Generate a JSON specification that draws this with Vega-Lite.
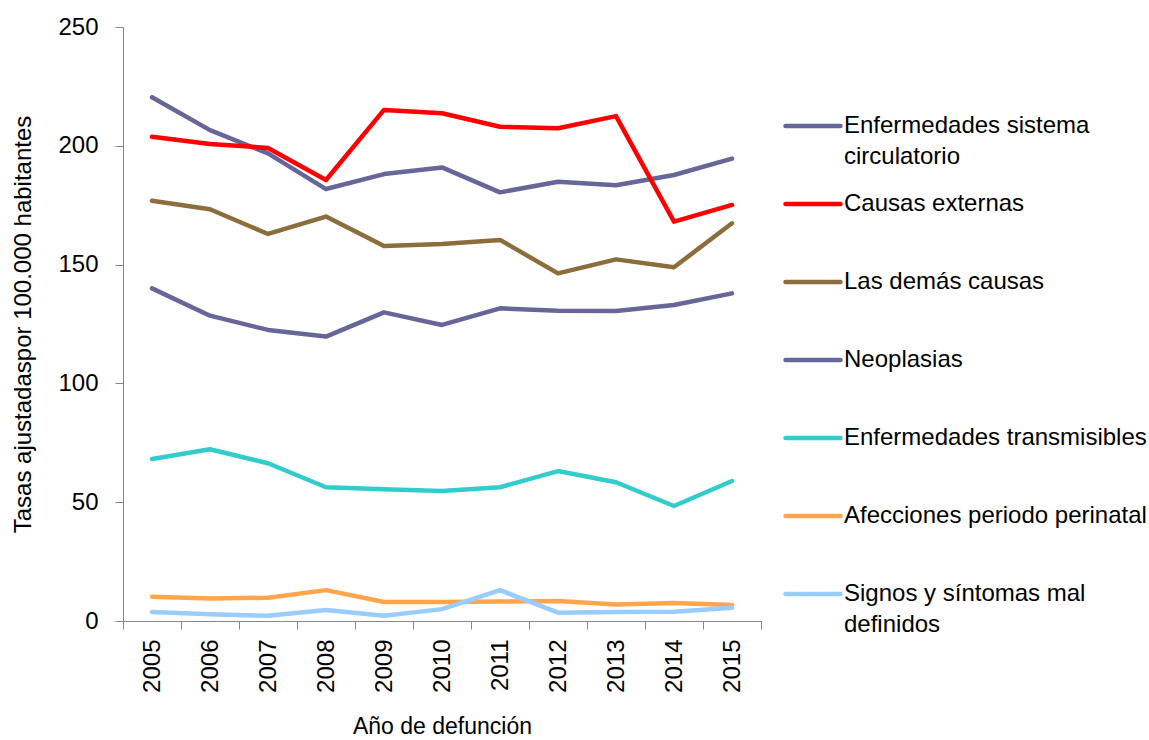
{
  "$schema": "https://vega.github.io/schema/vega-lite/v6.json",
  "width": 638,
  "height": 594,
  "autosize": {"type": "none"},
  "padding": {"left": 123, "top": 27, "right": 388, "bottom": 119},
  "config": {
    "view": {"stroke": null},
    "font": "Liberation Sans, Arial, sans-serif",
    "axis": {"labelFont": "Liberation Sans, Arial, sans-serif", "titleFont": "Liberation Sans, Arial, sans-serif"},
    "legend": {"labelFont": "Liberation Sans, Arial, sans-serif"}
  },
  "data": {
    "values": [
      {"causa": "Enfermedades sistema circulatorio", "anio": "2005", "tasa": 220.4},
      {"causa": "Enfermedades sistema circulatorio", "anio": "2006", "tasa": 206.6},
      {"causa": "Enfermedades sistema circulatorio", "anio": "2007", "tasa": 196.8},
      {"causa": "Enfermedades sistema circulatorio", "anio": "2008", "tasa": 181.8},
      {"causa": "Enfermedades sistema circulatorio", "anio": "2009", "tasa": 188.1},
      {"causa": "Enfermedades sistema circulatorio", "anio": "2010", "tasa": 190.9},
      {"causa": "Enfermedades sistema circulatorio", "anio": "2011", "tasa": 180.4},
      {"causa": "Enfermedades sistema circulatorio", "anio": "2012", "tasa": 184.9},
      {"causa": "Enfermedades sistema circulatorio", "anio": "2013", "tasa": 183.4},
      {"causa": "Enfermedades sistema circulatorio", "anio": "2014", "tasa": 187.7},
      {"causa": "Enfermedades sistema circulatorio", "anio": "2015", "tasa": 194.6},
      {"causa": "Causas externas", "anio": "2005", "tasa": 203.8},
      {"causa": "Causas externas", "anio": "2006", "tasa": 200.8},
      {"causa": "Causas externas", "anio": "2007", "tasa": 199.1},
      {"causa": "Causas externas", "anio": "2008", "tasa": 185.6},
      {"causa": "Causas externas", "anio": "2009", "tasa": 215.1},
      {"causa": "Causas externas", "anio": "2010", "tasa": 213.7},
      {"causa": "Causas externas", "anio": "2011", "tasa": 208.0},
      {"causa": "Causas externas", "anio": "2012", "tasa": 207.4},
      {"causa": "Causas externas", "anio": "2013", "tasa": 212.5},
      {"causa": "Causas externas", "anio": "2014", "tasa": 168.1},
      {"causa": "Causas externas", "anio": "2015", "tasa": 175.1},
      {"causa": "Las demás causas", "anio": "2005", "tasa": 176.9},
      {"causa": "Las demás causas", "anio": "2006", "tasa": 173.3},
      {"causa": "Las demás causas", "anio": "2007", "tasa": 162.9},
      {"causa": "Las demás causas", "anio": "2008", "tasa": 170.2},
      {"causa": "Las demás causas", "anio": "2009", "tasa": 157.8},
      {"causa": "Las demás causas", "anio": "2010", "tasa": 158.7},
      {"causa": "Las demás causas", "anio": "2011", "tasa": 160.4},
      {"causa": "Las demás causas", "anio": "2012", "tasa": 146.3},
      {"causa": "Las demás causas", "anio": "2013", "tasa": 152.2},
      {"causa": "Las demás causas", "anio": "2014", "tasa": 148.9},
      {"causa": "Las demás causas", "anio": "2015", "tasa": 167.4},
      {"causa": "Neoplasias", "anio": "2005", "tasa": 140.0},
      {"causa": "Neoplasias", "anio": "2006", "tasa": 128.5},
      {"causa": "Neoplasias", "anio": "2007", "tasa": 122.5},
      {"causa": "Neoplasias", "anio": "2008", "tasa": 119.7},
      {"causa": "Neoplasias", "anio": "2009", "tasa": 129.9},
      {"causa": "Neoplasias", "anio": "2010", "tasa": 124.6},
      {"causa": "Neoplasias", "anio": "2011", "tasa": 131.6},
      {"causa": "Neoplasias", "anio": "2012", "tasa": 130.6},
      {"causa": "Neoplasias", "anio": "2013", "tasa": 130.5},
      {"causa": "Neoplasias", "anio": "2014", "tasa": 133.0},
      {"causa": "Neoplasias", "anio": "2015", "tasa": 137.9},
      {"causa": "Enfermedades transmisibles", "anio": "2005", "tasa": 68.2},
      {"causa": "Enfermedades transmisibles", "anio": "2006", "tasa": 72.3},
      {"causa": "Enfermedades transmisibles", "anio": "2007", "tasa": 66.4},
      {"causa": "Enfermedades transmisibles", "anio": "2008", "tasa": 56.3},
      {"causa": "Enfermedades transmisibles", "anio": "2009", "tasa": 55.4},
      {"causa": "Enfermedades transmisibles", "anio": "2010", "tasa": 54.7},
      {"causa": "Enfermedades transmisibles", "anio": "2011", "tasa": 56.3},
      {"causa": "Enfermedades transmisibles", "anio": "2012", "tasa": 63.1},
      {"causa": "Enfermedades transmisibles", "anio": "2013", "tasa": 58.4},
      {"causa": "Enfermedades transmisibles", "anio": "2014", "tasa": 48.4},
      {"causa": "Enfermedades transmisibles", "anio": "2015", "tasa": 58.9},
      {"causa": "Afecciones periodo perinatal", "anio": "2005", "tasa": 10.2},
      {"causa": "Afecciones periodo perinatal", "anio": "2006", "tasa": 9.5},
      {"causa": "Afecciones periodo perinatal", "anio": "2007", "tasa": 9.8},
      {"causa": "Afecciones periodo perinatal", "anio": "2008", "tasa": 13.0},
      {"causa": "Afecciones periodo perinatal", "anio": "2009", "tasa": 8.0},
      {"causa": "Afecciones periodo perinatal", "anio": "2010", "tasa": 8.0},
      {"causa": "Afecciones periodo perinatal", "anio": "2011", "tasa": 8.2},
      {"causa": "Afecciones periodo perinatal", "anio": "2012", "tasa": 8.4},
      {"causa": "Afecciones periodo perinatal", "anio": "2013", "tasa": 6.9},
      {"causa": "Afecciones periodo perinatal", "anio": "2014", "tasa": 7.6},
      {"causa": "Afecciones periodo perinatal", "anio": "2015", "tasa": 6.7},
      {"causa": "Signos y síntomas mal definidos", "anio": "2005", "tasa": 3.8},
      {"causa": "Signos y síntomas mal definidos", "anio": "2006", "tasa": 2.8},
      {"causa": "Signos y síntomas mal definidos", "anio": "2007", "tasa": 2.2},
      {"causa": "Signos y síntomas mal definidos", "anio": "2008", "tasa": 4.6},
      {"causa": "Signos y síntomas mal definidos", "anio": "2009", "tasa": 2.2},
      {"causa": "Signos y síntomas mal definidos", "anio": "2010", "tasa": 5.0},
      {"causa": "Signos y síntomas mal definidos", "anio": "2011", "tasa": 13.0},
      {"causa": "Signos y síntomas mal definidos", "anio": "2012", "tasa": 3.5},
      {"causa": "Signos y síntomas mal definidos", "anio": "2013", "tasa": 3.8},
      {"causa": "Signos y síntomas mal definidos", "anio": "2014", "tasa": 3.9},
      {"causa": "Signos y síntomas mal definidos", "anio": "2015", "tasa": 5.6}
    ]
  },
  "mark": {"type": "line", "strokeWidth": 4.5, "strokeCap": "round", "strokeJoin": "round"},
  "encoding": {
    "x": {
      "field": "anio",
      "type": "ordinal",
      "scale": {"type": "band", "paddingInner": 0, "paddingOuter": 0},
      "axis": {
        "title": "Año de defunción",
        "titleFontSize": 23,
        "titleFontWeight": "normal",
        "titleColor": "black",
        "titlePadding": 23,
        "labelAngle": -90,
        "labelFontSize": 24,
        "labelColor": "black",
        "labelPadding": 10,
        "tickBand": "extent",
        "tickSize": 8,
        "tickColor": "#868686",
        "domainColor": "#868686",
        "grid": false
      }
    },
    "y": {
      "field": "tasa",
      "type": "quantitative",
      "scale": {"domain": [0, 250], "nice": false, "zero": true},
      "axis": {
        "title": "Tasas ajustadaspor 100.000 habitantes",
        "titleFontSize": 24,
        "titleFontWeight": "normal",
        "titleColor": "black",
        "titlePadding": 22,
        "values": [0, 50, 100, 150, 200, 250],
        "labelFontSize": 24,
        "labelColor": "black",
        "labelPadding": 17,
        "tickSize": 8,
        "tickColor": "#868686",
        "domainColor": "#868686",
        "grid": false
      }
    },
    "color": {
      "field": "causa",
      "type": "nominal",
      "scale": {
        "domain": ["Enfermedades sistema circulatorio", "Causas externas", "Las demás causas", "Neoplasias", "Enfermedades transmisibles", "Afecciones periodo perinatal", "Signos y síntomas mal definidos"],
        "range": ["#666699", "#ff0000", "#8c6d3c", "#666699", "#33cccc", "#ffa64d", "#99ccff"]
      },
      "legend": {
        "title": null,
        "orient": "none",
        "legendX": 660,
        "legendY": 69,
        "padding": 0,
        "symbolType": "stroke",
        "symbolSize": 3025,
        "symbolStrokeWidth": 4.5,
        "labelFontSize": 24,
        "labelColor": "black",
        "labelOffset": 1,
        "labelLimit": 400,
        "labelBaseline": "middle",
        "rowPadding": 5,
        "labelExpr": "datum.label == 'Enfermedades sistema circulatorio' ? ['Enfermedades sistema', 'circulatorio'] : datum.label == 'Signos y síntomas mal definidos' ? ['Signos y síntomas mal', 'definidos'] : [datum.label, '']",
        "encode": {
          "labels": {"update": {"lineHeight": {"value": 31}}},
          "symbols": {"update": {"strokeCap": {"value": "round"}}}
        }
      }
    }
  }
}
